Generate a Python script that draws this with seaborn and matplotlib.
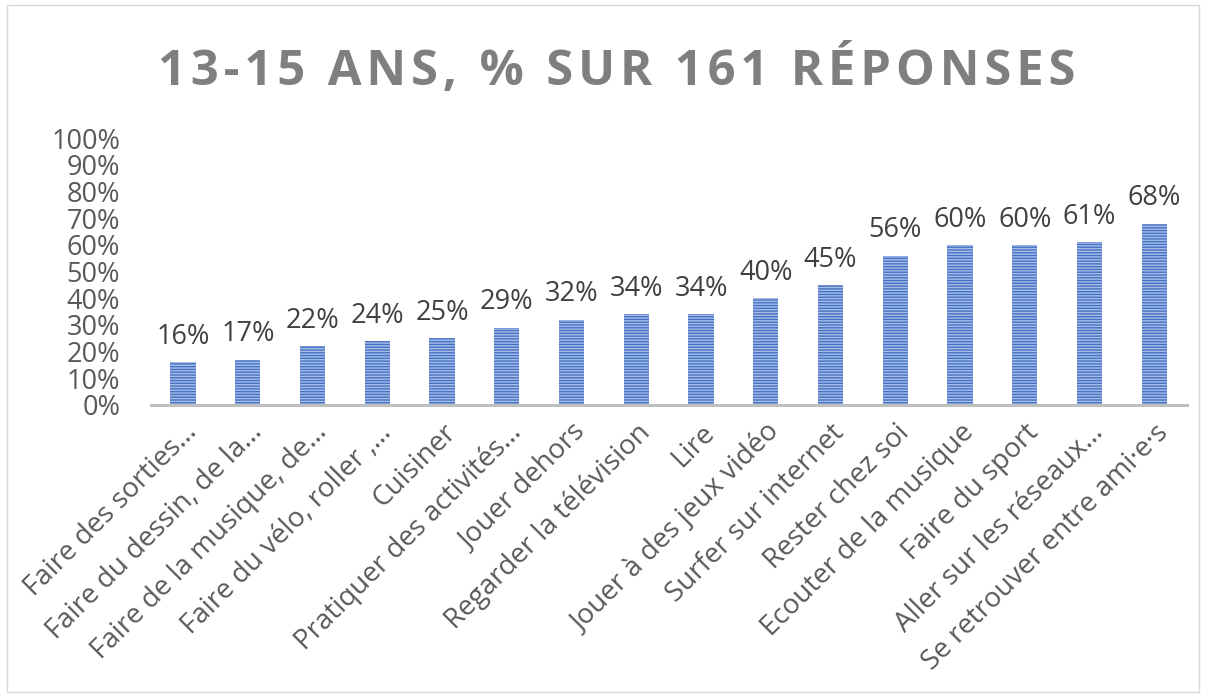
import matplotlib
matplotlib.use("Agg")
import matplotlib.pyplot as plt
import seaborn as sns
import pandas as pd
from matplotlib.patches import Rectangle

# ── DATA ─────────────────────────────────────────────
activities = [
    "Faire des sorties…", "Faire du dessin, de la…", "Faire de la musique, de…",
    "Faire du vélo, roller ,…", "Cuisiner", "Pratiquer des activités…",
    "Jouer dehors", "Regarder la télévision", "Lire", "Jouer à des jeux vidéo",
    "Surfer sur internet", "Rester chez soi", "Ecouter de la musique",
    "Faire du sport", "Aller sur les réseaux…", "Se retrouver entre ami·e·s",
]
percent = [16, 17, 22, 24, 25, 29, 32, 34, 34, 40, 45, 56, 60, 60, 61, 68]
title = "13-15 ANS, % SUR 161 RÉPONSES"

df = pd.DataFrame({"Activité": activities, "Pourcentage": percent})

# ── PLOT ─────────────────────────────────────────────
sns.set_style("white")
plt.rcParams["font.family"] = ["Open Sans", "DejaVu Sans"]
plt.rcParams["hatch.linewidth"] = 1.0

fig = plt.figure(figsize=(12.06, 6.98), dpi=100)
ax = fig.add_axes([0.125, 0.42, 0.859, 0.382])

sns.barplot(data=df, x="Activité", y="Pourcentage", color="#4472C4",
            width=0.39, saturation=1, ax=ax)
# horizontal stripe fill like the Excel pattern
for p in ax.patches:
    p.set_hatch("------")
    p.set_edgecolor("#A7BDE8")
    p.set_linewidth(0)

for p, v in zip(ax.patches, percent):
    ax.annotate(f"{v}%", (p.get_x() + p.get_width() / 2, v),
                xytext=(0, 8), textcoords="offset points",
                ha="center", va="bottom", fontsize=19.5, color="#404040")

ax.set_ylim(0, 100)
ax.set_xlim(-0.5, len(activities) - 0.5)
ax.set_yticks(range(0, 101, 10))
ax.set_yticklabels([f"{t}%" for t in range(0, 101, 10)], fontsize=19.5, color="#595959")
ax.set_xticks(range(len(activities)))
ax.set_xticklabels(activities, rotation=45, ha="right", rotation_mode="anchor",
                   fontsize=20, color="#595959")
ax.tick_params(axis="y", length=0, pad=22)
ax.tick_params(axis="x", length=0, pad=10)
ax.set_xlabel("")
ax.set_ylabel("")
for s in ["top", "right", "left"]:
    ax.spines[s].set_visible(False)
ax.spines["bottom"].set_color("#BFBFBF")
ax.spines["bottom"].set_linewidth(2.2)

spaced_title = "\u200a".join(title)
fig.text(0.511, 0.897, spaced_title, ha="center", va="center", fontsize=35.3,
         fontweight="bold", color="#7F7F7F")

fig.patches.append(Rectangle((0.006, 0.008), 0.988, 0.985, transform=fig.transFigure,
                             fill=False, edgecolor="#D9D9D9", linewidth=1))

plt.savefig("out.png", dpi=100)
